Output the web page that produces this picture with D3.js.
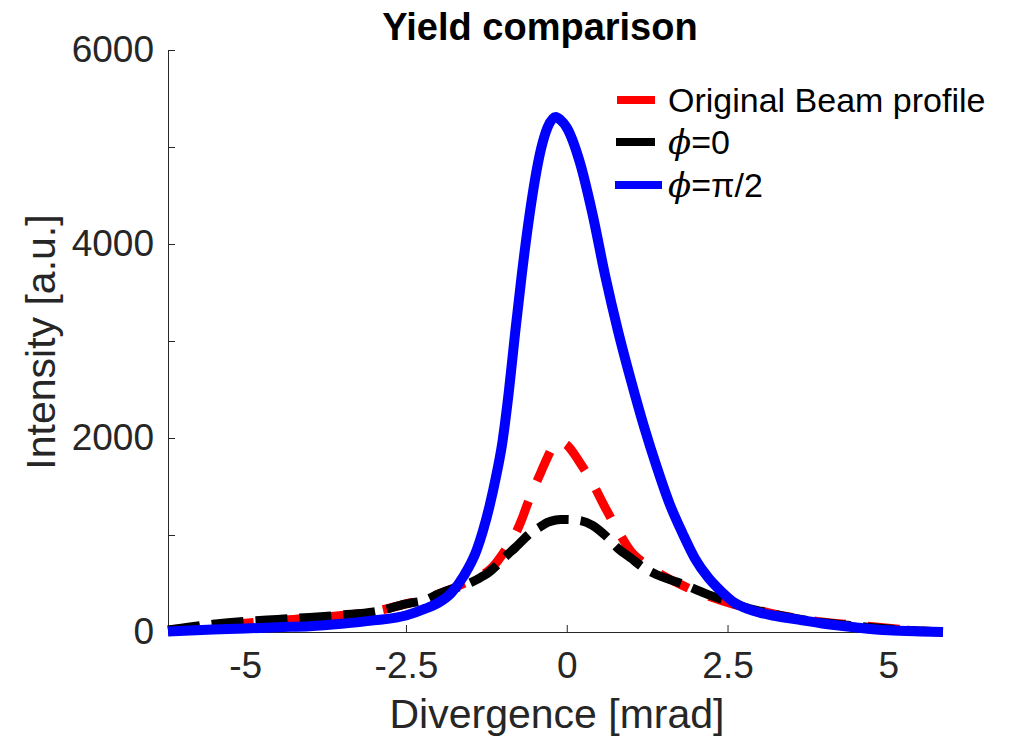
<!DOCTYPE html>
<html>
<head>
<meta charset="utf-8">
<script src="https://cdn.jsdelivr.net/npm/d3@7"></script>
<style>
  body { margin: 0; background: #fff; }
  svg { display: block; font-family: "Liberation Sans", Arial, sans-serif; }
  .axis path, .axis line { stroke: #262626; stroke-width: 1; }
  .axis text { fill: #262626; font-size: 37px; }
</style>
</head>
<body>
<svg width="1015" height="749"></svg>
<script>
// divergence grid [mrad]
const divergence = [-6.2, -5.5, -5, -4.5, -4, -3.5, -3, -2.5, -2.2, -2.0, -1.8, -1.6, -1.4, -1.2, -1.1, -1.0,
  -0.9, -0.8, -0.7, -0.6, -0.4, -0.3, -0.17, -0.1, 0, 0.2, 0.4, 0.6, 0.8, 1.0, 1.2, 1.4, 1.6, 1.8, 2.0, 2.2,
  2.4, 2.6, 2.8, 3.0, 3.2, 3.6, 4.0, 4.5, 5.0, 5.5, 5.85];

// Original Beam profile
const original = [20, 60, 90, 120, 140, 170, 210, 290, 340, 390, 440, 500, 560, 640, 710, 800,
  900, 1010, 1160, 1340, 1650, 1800, 1950, 1960, 1930, 1750, 1536, 1280, 1040, 830, 710, 620, 545, 480, 420, 370,
  325, 285, 250, 220, 190, 140, 100, 70, 40, 10, 0];

// phi = 0
const phi0 = [20, 80, 110, 130, 150, 175, 206, 290, 330, 390, 440, 480, 540, 620, 680, 750,
  810, 870, 935, 1000, 1090, 1130, 1155, 1160, 1160, 1150, 1100, 995, 860, 760, 660, 590, 540, 495, 440, 385,
  340, 295, 250, 215, 185, 135, 95, 60, 30, 10, 0];

// phi = pi/2
const phiHalfPi = [5, 25, 35, 50, 60, 85, 120, 170, 240, 300, 400, 580, 846, 1300, 1600, 1960,
  2480, 3100, 3680, 4200, 4980, 5200, 5310, 5280, 5200, 4850, 4310, 3665, 3096, 2590, 2120, 1700, 1320, 1018, 750, 560,
  420, 305, 240, 200, 170, 128, 85, 47, 17, 5, 0];

const xTicks = [-5, -2.5, 0, 2.5, 5];
const yTicks = [0, 1000, 2000, 3000, 4000, 5000, 6000];
const yTickLabels = ['0', '', '2000', '', '4000', '', '6000'];

const series = [
  { name: 'Original Beam profile', values: original, color: '#ff0000', width: 9, dash: '32,22' },
  { name: 'phi0', values: phi0, color: '#000000', width: 9, dash: '32,12' },
  { name: 'phiHalfPi', values: phiHalfPi, color: '#0000ff', width: 10, dash: null }
];

const svg = d3.select('svg');
const plotLeft = 168, plotRight = 943, plotTop = 50, plotBottom = 632;

const x = d3.scaleLinear().domain([-6.2, 5.85]).range([plotLeft, plotRight]);
const y = d3.scaleLinear().domain([0, 6000]).range([plotBottom, plotTop]);

// axes, ticks pointing inward like matlab
svg.append('g')
  .attr('class', 'axis')
  .attr('transform', `translate(0, ${plotBottom})`)
  .call(d3.axisBottom(x).tickValues(xTicks).tickSize(-7).tickPadding(20)
    .tickFormat(d => String(d)))
  .call(g => g.select('.domain').attr('d', `M${plotLeft},0.5H${plotRight}`))
  .call(g => g.selectAll('text').attr('dy', '0.71em'));

svg.append('g')
  .attr('class', 'axis')
  .attr('transform', `translate(${plotLeft}, 0)`)
  .call(d3.axisLeft(y).tickValues(yTicks).tickSize(-7).tickPadding(14)
    .tickFormat((d, i) => yTickLabels[i]))
  .call(g => g.select('.domain').attr('d', `M0.5,${plotTop}V${plotBottom}`));

const line = d3.line()
  .x((d, i) => x(divergence[i]))
  .y(d => y(d))
  .curve(d3.curveMonotoneX);

series.forEach(s => {
  svg.append('path')
    .datum(s.values)
    .attr('fill', 'none')
    .attr('stroke', s.color)
    .attr('stroke-width', s.width)
    .attr('stroke-dasharray', s.dash)
    .attr('stroke-linejoin', 'round')
    .attr('d', line);
});

// title and labels
svg.append('text')
  .attr('x', 540)
  .attr('y', 40)
  .attr('text-anchor', 'middle')
  .attr('font-size', 38)
  .attr('font-weight', 'bold')
  .attr('fill', '#000')
  .text('Yield comparison');

svg.append('text')
  .attr('x', 557)
  .attr('y', 728)
  .attr('text-anchor', 'middle')
  .attr('font-size', 41)
  .attr('fill', '#262626')
  .text('Divergence [mrad]');

svg.append('text')
  .attr('transform', 'translate(55, 342) rotate(-90)')
  .attr('text-anchor', 'middle')
  .attr('font-size', 41)
  .attr('fill', '#262626')
  .text('Intensity [a.u.]');

// legend
const legendRows = [
  { color: '#ff0000', y: 100, x1: 617, x2: 655, label: [{ t: 'Original Beam profile' }] },
  { color: '#000000', y: 142, x1: 616, x2: 655, label: [{ t: 'ϕ', it: true }, { t: '=0' }] },
  { color: '#0000ff', y: 185, x1: 615, x2: 662, label: [{ t: 'ϕ', it: true }, { t: '=π/2' }] }
];

const legend = svg.append('g');
legendRows.forEach(r => {
  legend.append('line')
    .attr('x1', r.x1).attr('x2', r.x2)
    .attr('y1', r.y).attr('y2', r.y)
    .attr('stroke', r.color)
    .attr('stroke-width', 8);
  const t = legend.append('text')
    .attr('x', 668)
    .attr('y', r.y + 12)
    .attr('font-size', 34)
    .attr('fill', '#000');
  r.label.forEach(p => {
    t.append('tspan')
      .attr('font-style', p.it ? 'italic' : null)
      .attr('font-family', p.it ? '"DejaVu Serif", serif' : null)
      .text(p.t);
  });
});
</script>
</body>
</html>
